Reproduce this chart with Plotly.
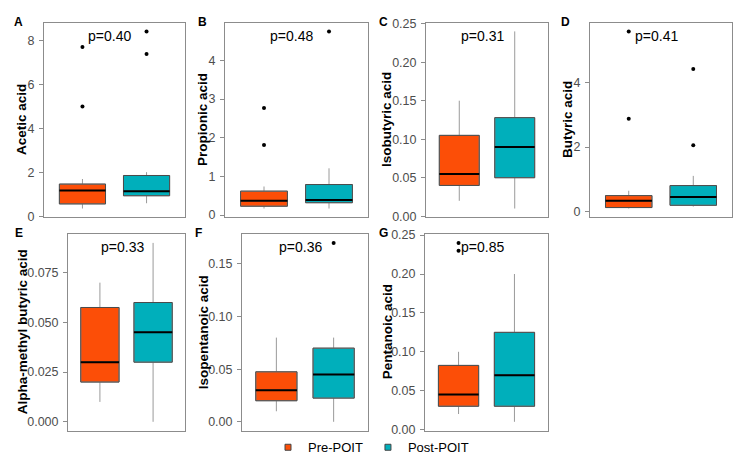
import plotly.graph_objects as go

# ---------------- data ----------------
groups = ["Pre-POIT", "Post-POIT"]
group_colors = ["#FC4E07", "#00AFBB"]
panel_letters = ["A", "B", "C", "D", "E", "F", "G"]
acid_names = ["Acetic acid", "Propionic acid", "Isobutyric acid", "Butyric acid",
              "Alpha-methyl butyric acid", "Isopentanoic acid", "Pentanoic acid"]
p_labels = ["p=0.40", "p=0.48", "p=0.31", "p=0.41", "p=0.33", "p=0.36", "p=0.85"]

# [lower whisker, q1, median, q3, upper whisker]
acetic_pre = [0.37, 0.58, 1.19, 1.48, 1.71]
acetic_post = [0.61, 0.95, 1.15, 1.87, 2.02]
acetic_pre_out = [5.00, 7.70]
acetic_post_out = [7.38, 8.41]

propionic_pre = [0.17, 0.23, 0.37, 0.62, 0.74]
propionic_post = [0.17, 0.32, 0.39, 0.79, 1.21]
propionic_pre_out = [1.81, 2.77]
propionic_post_out = [4.75]

isobutyric_pre = [0.02, 0.04, 0.055, 0.105, 0.15]
isobutyric_post = [0.01, 0.05, 0.09, 0.128, 0.24]
isobutyric_pre_out = []
isobutyric_post_out = []

butyric_pre = [0.10, 0.13, 0.34, 0.50, 0.65]
butyric_post = [0.16, 0.20, 0.46, 0.81, 1.11]
butyric_pre_out = [2.88, 5.58]
butyric_post_out = [2.06, 4.42]

alpha_pre = [0.01, 0.02, 0.03, 0.0575, 0.07]
alpha_post = [0.0, 0.03, 0.045, 0.06, 0.09]
alpha_pre_out = []
alpha_post_out = []

isopentanoic_pre = [0.01, 0.02, 0.03, 0.0475, 0.08]
isopentanoic_post = [0.0, 0.0225, 0.045, 0.07, 0.08]
isopentanoic_pre_out = []
isopentanoic_post_out = [0.17]

pentanoic_pre = [0.02, 0.03, 0.045, 0.0825, 0.10]
pentanoic_post = [0.01, 0.03, 0.07, 0.125, 0.20]
pentanoic_pre_out = [0.23, 0.24]
pentanoic_post_out = []

panel_stats = [
    (acetic_pre, acetic_post, acetic_pre_out, acetic_post_out),
    (propionic_pre, propionic_post, propionic_pre_out, propionic_post_out),
    (isobutyric_pre, isobutyric_post, isobutyric_pre_out, isobutyric_post_out),
    (butyric_pre, butyric_post, butyric_pre_out, butyric_post_out),
    (alpha_pre, alpha_post, alpha_pre_out, alpha_post_out),
    (isopentanoic_pre, isopentanoic_post, isopentanoic_pre_out, isopentanoic_post_out),
    (pentanoic_pre, pentanoic_post, pentanoic_pre_out, pentanoic_post_out),
]
y_dticks = [2, 1, 0.05, 2, 0.025, 0.05, 0.05]
y_formats = ["d", "d", ".2f", "d", ".3f", ".2f", ".2f"]

# ---------------- layout geometry (pixels) ----------------
W, H = 742, 466
# (left, right, top, bottom) of each plot panel
boxes_px = [
    (44, 185, 18, 218), (225, 368, 18, 218), (426, 548, 18, 218), (590, 732, 18, 218),
    (68, 185, 235, 437), (242, 368, 235, 437), (425, 548, 235, 437),
]
letter_x = [12, 196, 377, 559, 13, 193, 377]
title_x = [22, 203, 387, 568, 22, 203, 387]

FONT = "Arial, Liberation Sans, sans-serif"
BOX_W = 0.72

fig = go.Figure()
layout = dict(
    width=W, height=H,
    margin=dict(l=0, r=0, t=0, b=0),
    paper_bgcolor="white", plot_bgcolor="white",
    boxmode="overlay",
    font=dict(family=FONT, color="black"),
    showlegend=True,
    legend=dict(orientation="h", x=0.5, xanchor="center", y=(H - 454) / H, yanchor="middle",
                font=dict(size=13, family=FONT, color="black"), itemwidth=30,
                bgcolor="rgba(0,0,0,0)", tracegroupgap=0),
)
annotations = []

# legend keys
for g in range(2):
    fig.add_trace(go.Scatter(
        x=[None], y=[None], mode="markers", name=groups[g],
        marker=dict(symbol="square", size=6, color=group_colors[g],
                    line=dict(color="#444444", width=1)),
        showlegend=True, hoverinfo="skip",
    ))

for i, (pre, post, pre_out, post_out) in enumerate(panel_stats):
    n = i + 1
    xa = "x" if n == 1 else f"x{n}"
    ya = "y" if n == 1 else f"y{n}"
    l, r, t, b = boxes_px[i]

    all_vals = pre + post + pre_out + post_out
    vmin, vmax = min(all_vals), max(all_vals)
    pad = (vmax - vmin) * 0.05

    for g, (stats, outs) in enumerate([(pre, pre_out), (post, post_out)]):
        # full box with light grey whiskers
        fig.add_trace(go.Box(
            x=[g], lowerfence=[stats[0]], q1=[stats[1]], median=[stats[2]],
            q3=[stats[3]], upperfence=[stats[4]],
            width=BOX_W, fillcolor=group_colors[g],
            line=dict(color="#9a9a9a", width=1), whiskerwidth=0,
            name=groups[g], showlegend=False,
            boxpoints=False, hoverinfo="skip", xaxis=xa, yaxis=ya,
        ))
        # darker outline of the box body only
        fig.add_trace(go.Box(
            x=[g], lowerfence=[stats[1]], q1=[stats[1]], median=[stats[2]],
            q3=[stats[3]], upperfence=[stats[3]],
            width=BOX_W, fillcolor="rgba(0,0,0,0)",
            line=dict(color="#4a4a4a", width=1), whiskerwidth=0,
            name=groups[g], showlegend=False,
            boxpoints=False, hoverinfo="skip", xaxis=xa, yaxis=ya,
        ))
        # thick black median line
        fig.add_trace(go.Scatter(
            x=[g - BOX_W / 2, g + BOX_W / 2], y=[stats[2], stats[2]], mode="lines",
            line=dict(color="black", width=2), showlegend=False, hoverinfo="skip",
            xaxis=xa, yaxis=ya,
        ))
        if outs:
            fig.add_trace(go.Scatter(
                x=[g] * len(outs), y=outs, mode="markers",
                marker=dict(color="black", size=4), showlegend=False, hoverinfo="skip",
                xaxis=xa, yaxis=ya,
            ))

    xkey = "xaxis" if n == 1 else f"xaxis{n}"
    ykey = "yaxis" if n == 1 else f"yaxis{n}"
    layout[xkey] = dict(
        domain=[l / W, r / W], anchor=ya, range=[-0.6, 1.6],
        showticklabels=False, ticks="", showgrid=False, zeroline=False,
        showline=True, mirror=True, linecolor="#8c8c8c", linewidth=1,
    )
    layout[ykey] = dict(
        domain=[1 - b / H, 1 - t / H], anchor=xa, range=[vmin - pad, vmax + pad],
        tick0=0, dtick=y_dticks[i], tickformat=y_formats[i],
        ticks="outside", ticklen=4, tickcolor="#8c8c8c", ticklabelstandoff=2,
        tickfont=dict(size=12.5, color="#4d4d4d", family=FONT),
        showgrid=False, zeroline=False,
        showline=True, mirror=True, linecolor="#8c8c8c", linewidth=1,
    )
    # p-value label
    annotations.append(dict(
        text=p_labels[i], xref=f"{xa} domain", yref=f"{ya} domain",
        x=0.465, y=1, yshift=-13, xanchor="center", yanchor="middle",
        showarrow=False, font=dict(size=14, color="black", family=FONT),
    ))
    # axis title
    annotations.append(dict(
        text=f"<b>{acid_names[i]}</b>", xref="paper", yref="paper",
        x=title_x[i] / W, y=1 - (t + b) / 2 / H, textangle=-90,
        xanchor="center", yanchor="middle", showarrow=False,
        font=dict(size=13.5, color="black", family=FONT),
    ))
    # panel letter
    annotations.append(dict(
        text=f"<b>{panel_letters[i]}</b>", xref="paper", yref="paper",
        x=letter_x[i] / W, y=1 - (t - 1) / H, xanchor="left", yanchor="middle",
        showarrow=False, font=dict(size=12, color="black", family=FONT),
    ))

layout["annotations"] = annotations
fig.update_layout(**layout)
fig.write_html(
    "out.html",
    config={"displayModeBar": False, "staticPlot": True},
    post_script="document.body.style.margin='0';document.body.style.overflow='hidden';",
)
